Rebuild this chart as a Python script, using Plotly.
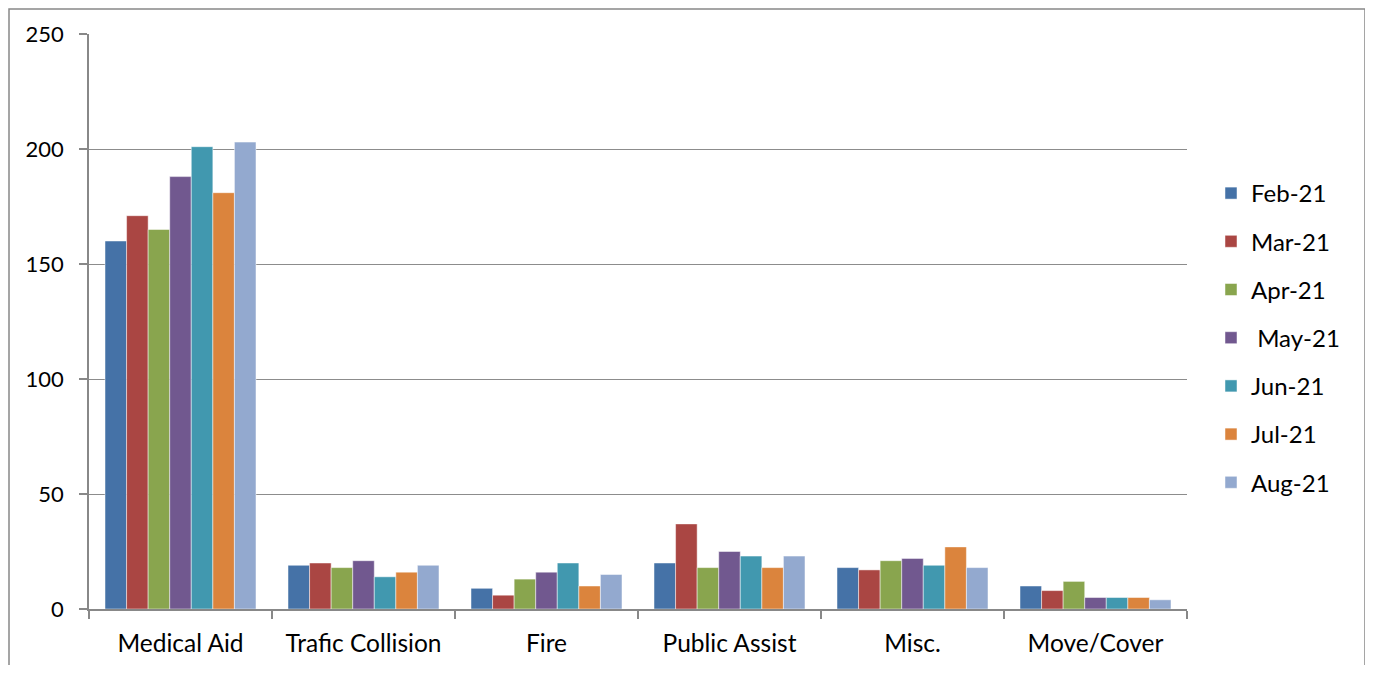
import plotly.graph_objects as go

categories = ["Medical Aid", "Trafic Collision", "Fire", "Public Assist", "Misc.", "Move/Cover"]
series_names = ["Feb-21", "Mar-21", "Apr-21", " May-21", "Jun-21", "Jul-21", "Aug-21"]
feb = [160, 19, 9, 20, 18, 10]
mar = [171, 20, 6, 37, 17, 8]
apr = [165, 18, 13, 18, 21, 12]
may = [188, 21, 16, 25, 22, 5]
jun = [201, 14, 20, 23, 19, 5]
jul = [181, 16, 10, 18, 27, 5]
aug = [203, 19, 15, 23, 18, 4]
series_values = [feb, mar, apr, may, jun, jul, aug]
colors = ["#4572A7", "#AA4643", "#89A54E", "#71588F", "#4198AF", "#DB843D", "#93A9CF"]

FONT = "Lato, 'Noto Sans', sans-serif"

fig = go.Figure()
for name, vals, c in zip(series_names, series_values, colors):
    fig.add_trace(go.Bar(
        x=categories, y=vals, name=name, legendgroup=name,
        marker=dict(color=c, line=dict(color="rgba(255,255,255,0.6)", width=0.8)),
    ))

OFF = 8  # page body margin
W, H = 1373 - 2 * OFF, 673 - 2 * OFF
L, R, T, B = 89 - OFF, 1187 - OFF, 34 - OFF, 609 - OFF
pw, ph = R - L, B - T

def px(x):
    return (x - OFF - L) / pw

def py(y):
    return (B - (y - OFF)) / ph

fig.update_layout(
    width=W, height=H, autosize=False,
    margin=dict(l=L, r=W - R, t=T, b=H - B, pad=0, autoexpand=False),
    paper_bgcolor="white", plot_bgcolor="white",
    barmode="group", bargap=0.175, bargroupgap=0,
    font=dict(family=FONT, size=24, color="black"),
    legend=dict(x=px(1211), y=py(171), xanchor="left", yanchor="top",
                font=dict(size=24), tracegroupgap=14, itemwidth=30,
                bgcolor="rgba(0,0,0,0)"),
    xaxis=dict(showline=True, linecolor="#888888", linewidth=1.5,
               tickson="boundaries", ticks="outside", ticklen=8, tickcolor="#888888",
               tickwidth=1.5, showgrid=False, ticklabelstandoff=12,
               tickfont=dict(size=24.5), automargin=False),
    yaxis=dict(range=[0, 250], dtick=50, showline=True, linecolor="#888888", linewidth=1.5,
               ticks="outside", ticklen=8, tickcolor="#888888", tickwidth=1.5,
               showgrid=True, gridcolor="#8c8c8c", gridwidth=1.2, zeroline=False,
               ticklabelstandoff=11, tickfont=dict(size=22), automargin=False),
    showlegend=True,
    shapes=[dict(type="rect", xref="paper", yref="paper",
                 x0=px(9), x1=px(1365), y0=py(720), y1=py(9),
                 line=dict(color="#888888", width=1.5), fillcolor="rgba(0,0,0,0)", layer="below")],
)

fig.write_html("out.html")
